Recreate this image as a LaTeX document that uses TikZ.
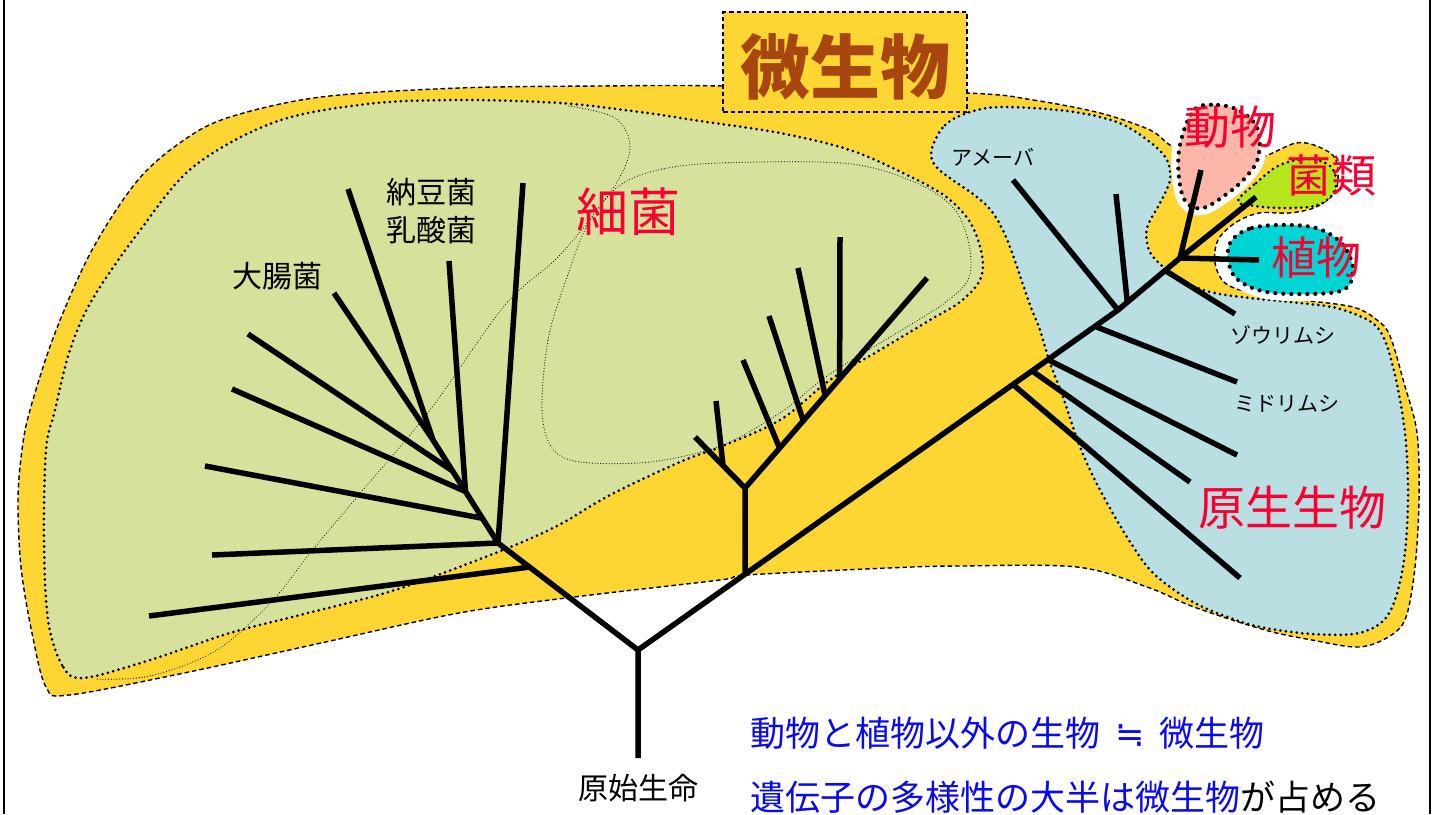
\documentclass[tikz,border=0pt]{standalone}
\usepackage{fontspec}
\newfontfamily\jp{Noto Sans CJK JP}
\newfontfamily\dvs{DejaVu Sans}
\usetikzlibrary{calc}
\definecolor{yel}{RGB}{253,214,51}
\definecolor{bact}{RGB}{214,225,155}
\definecolor{prot}{RGB}{185,223,227}
\definecolor{pinkc}{RGB}{252,182,170}
\definecolor{limec}{RGB}{181,230,29}
\definecolor{cyanc}{RGB}{0,212,212}
\definecolor{redt}{RGB}{250,0,50}
\definecolor{brownt}{RGB}{168,70,16}
\definecolor{bluet}{RGB}{10,10,240}
\begin{document}
\begin{tikzpicture}[x=1pt,y=-1pt,
  outer/.style={fill=yel,draw=black,line width=1.4pt,dash pattern=on 4.5pt off 3pt},
  dotb/.style={draw=black,line width=3pt,dash pattern=on 0pt off 5.5pt,line cap=round},
  dotbig/.style={draw=black,line width=4.2pt,dash pattern=on 0pt off 8pt,line cap=round},
  thindot/.style={draw=black,line width=1.1pt,dash pattern=on 0pt off 2.8pt,line cap=round},
  halo/.style={draw=white,line width=14pt},
  branch/.style={draw=black,line width=5.5pt,line join=round},
  lab/.style={inner sep=0pt,font=\jp\fontsize{#1}{#1}\selectfont},
  redlab/.style={lab=#1,text=redt},
  framel/.style={draw=black,line width=2pt}
]
\useasboundingbox (0,0) rectangle (1434,814);

% outer yellow region (micro-organisms)
\path[outer] plot[smooth cycle,tension=0.55] coordinates {
 (967,93) (1033,100) (1100,113) (1150,130) (1172,146) (1200,150) (1245,152)
 (1262,157) (1296,143) (1319,147) (1336,160) (1336,190) (1316,207) (1289,213)
 (1259,213) (1235,223) (1218,240) (1215,263) (1225,283) (1252,293) (1302,300)
 (1353,307) (1377,320) (1390,336) (1404,383) (1417,433) (1419,500) (1415,567)
 (1406,617) (1390,636) (1359,647) (1312,640) (1265,630) (1194,607) (1147,587)
 (1077,567) (960,566) (888,568) (747,575) (720,580) (574,597) (459,613)
 (321,643) (184,673) (69,695) (46,687) (32,633) (21,567) (18,500) (22,450)
 (30,410) (55,333) (92,250) (138,180) (184,140) (230,117) (321,97) (459,88)
 (600,86) (723,86)};

% title box
\node[outer,minimum width=244pt,minimum height=100pt,inner sep=0pt] (tbox) at (845,62) {};

% bacteria region
\path[fill=bact,dotb] plot[smooth cycle,tension=0.55] coordinates {
 (83,678) (62,665) (48,620) (44,540) (46,450) (55,410) (70,350) (92,300)
 (138,233) (193,167) (275,122) (367,104) (460,100) (560,103) (640,112)
 (700,121) (780,133) (850,150) (905,174) (945,196) (970,222) (982,255)
 (980,280) (960,302) (930,320) (880,350) (830,380) (780,420) (720,447)
 (680,462) (610,495) (557,526) (498,552) (395,590) (300,615) (230,633) (150,660)};

% thin dotted subdivisions
\path[thindot] plot[smooth,tension=0.55] coordinates {
 (569,106) (615,118) (630,148) (612,190) (560,255) (505,305) (430,410)
 (363,490) (310,553) (273,600) (217,650) (150,676) (95,679)};
\path[thindot] plot[smooth cycle,tension=0.55] coordinates {
 (542,410) (548,340) (566,280) (590,220) (625,182) (680,166) (760,162)
 (841,163) (888,172) (932,191) (958,214) (970,250) (968,280) (946,302)
 (915,322) (830,374) (780,413) (720,446) (650,462) (580,462) (552,448)};

% protist region
\path[fill=prot,dotb] plot[smooth cycle,tension=0.55] coordinates {
 (933,145) (945,125) (967,113) (1000,107) (1067,111) (1117,122) (1150,142)
 (1167,160) (1170,180) (1160,203) (1147,228) (1149,250) (1160,264) (1180,280)
 (1210,292) (1250,298) (1300,303) (1340,309) (1377,327) (1393,367) (1405,433)
 (1408,500) (1403,567) (1388,615) (1359,633) (1312,634) (1265,628) (1233,619)
 (1193,602) (1153,573) (1127,537) (1100,490) (1080,447) (1063,397) (1050,363)
 (1040,330) (1030,305) (1017,267) (1006,237) (993,213) (977,197) (943,173) (932,160)};

% fungi region
\path[fill=limec,dotb] plot[smooth cycle,tension=0.6] coordinates {
 (1238,201) (1256,183) (1280,165) (1310,159) (1332,168) (1335,190) (1318,205)
 (1286,208) (1255,206)};

% animal region
\path[halo] plot[smooth cycle,tension=0.6] coordinates {
 (1194,110) (1218,105) (1242,112) (1258,130) (1258,158) (1246,177) (1228,193)
 (1203,208) (1186,202) (1179,178) (1180,145)};
\path[fill=pinkc,dotbig] plot[smooth cycle,tension=0.6] coordinates {
 (1194,110) (1218,105) (1242,112) (1258,130) (1258,158) (1246,177) (1228,193)
 (1203,208) (1186,202) (1179,178) (1180,145)};

% plant region
\path[halo] plot[smooth cycle,tension=0.6] coordinates {
 (1232,240) (1252,228) (1286,225) (1319,229) (1343,245) (1353,270) (1343,290)
 (1302,294) (1262,291) (1236,278) (1228,258)};
\path[fill=cyanc,dotbig] plot[smooth cycle,tension=0.6] coordinates {
 (1232,240) (1252,228) (1286,225) (1319,229) (1343,245) (1353,270) (1343,290)
 (1302,294) (1262,291) (1236,278) (1228,258)};

% ---- tree ----
\coordinate (root) at (638,758);
\coordinate (R) at (638,650);
\coordinate (A) at (498,543);
\coordinate (T) at (433,440);
\coordinate (Q) at (1118,310);
\coordinate (J) at (1180,258);
\coordinate (M) at ($(R)!0.223!(Q)$);
\coordinate (N) at (745,488);
\coordinate (E) at (927,278);
\coordinate (Lf) at (695,437);
% left side nodes
\coordinate (B1) at ($(R)!0.775!(A)$);
\coordinate (S1) at ($(A)!0.24!(T)$);
\coordinate (S2) at ($(A)!0.50!(T)$);
\coordinate (S3) at ($(A)!0.70!(T)$);
% archaea nodes
\coordinate (N1) at ($(N)!0.44!(Lf)$);
\coordinate (K1) at ($(N)!0.19!(E)$);
\coordinate (K2) at ($(N)!0.32!(E)$);
\coordinate (K3) at ($(N)!0.44!(E)$);
\coordinate (K4) at ($(N)!0.52!(E)$);
% eukaryote nodes
\coordinate (P1) at ($(R)!0.781!(Q)$);
\coordinate (P2) at ($(R)!0.821!(Q)$);
\coordinate (P3) at ($(R)!0.854!(Q)$);
\coordinate (P4) at ($(R)!0.952!(Q)$);
\coordinate (Q2) at ($(Q)!0.15!(J)$);
\coordinate (Q3) at ($(Q)!0.76!(J)$);
% leaves
\coordinate (b1) at (149,616);
\coordinate (b2) at (212,555);
\coordinate (b3) at (523,183);
\coordinate (b4) at (205,466);
\coordinate (b5) at (232,389);
\coordinate (b6) at (449,261);
\coordinate (b7) at (248,334);
\coordinate (b8) at (334,293);
\coordinate (b9) at (348,189);
\coordinate (a1) at (716,401);
\coordinate (a2) at (743,360);
\coordinate (a3) at (769,316);
\coordinate (a4) at (798,268);
\coordinate (a5) at (840,237);
\coordinate (e1) at (1240,578);
\coordinate (e2) at (1190,482);
\coordinate (e3) at (1237,455);
\coordinate (e4) at (1237,382);
\coordinate (e5) at (1013,180);
\coordinate (e6) at (1116,194);
\coordinate (e7) at (1235,314);
\coordinate (ani) at (1201,170);
\coordinate (fun) at (1256,197);
\coordinate (pla) at (1259,260);

\draw[branch] (root) -- (R) -- (A) -- (T);
\draw[branch] (R) -- (Q) -- (J);
\draw[branch] (B1) -- (b1);
\draw[branch] (A) -- (b2);
\draw[branch] (A) -- (b3);
\draw[branch] (S1) -- (b4);
\draw[branch] (S2) -- (b5);
\draw[branch] (S2) -- (b6);
\draw[branch] (S3) -- (b7);
\draw[branch] (T) -- (b8);
\draw[branch] (T) -- (b9);
\draw[branch] (M) -- (N) -- (E);
\draw[branch] (N) -- (Lf);
\draw[branch] (N1) -- (a1);
\draw[branch] (K1) -- (a2);
\draw[branch] (K2) -- (a3);
\draw[branch] (K3) -- (a4);
\draw[branch] (K4) -- (a5);
\draw[branch] (P1) -- (e1);
\draw[branch] (P2) -- (e2);
\draw[branch] (P3) -- (e3);
\draw[branch] (P4) -- (e4);
\draw[branch] (Q) -- (e5);
\draw[branch] (Q2) -- (e6);
\draw[branch] (Q3) -- (e7);
\draw[branch] (J) -- (ani);
\draw[branch] (J) -- (fun);
\draw[branch] (J) -- (pla);

% ---- labels ----
\node[inner sep=0pt,text=brownt,font=\jp\bfseries\fontsize{70}{70}\selectfont] (ttl) at (845,67) {微生物};
\node[redlab=52] (saikin) at (628,212) {細菌};
\node[redlab=47] (gensei) at (1292,508) {原生生物};
\node[redlab=46] (doubutsu) at (1230,127) {動物};
\node[redlab=45] (kinrui) at (1331,175) {菌類};
\node[redlab=45] (shokubutsu) at (1316,257) {植物};
\node[lab=30] (daichou) at (277,276) {大腸菌};
\node[lab=30] (natto) at (431,192) {納豆菌};
\node[lab=30] (nyusan) at (431,230) {乳酸菌};
\node[lab=21] (ameba) at (993,157) {アメーバ};
\node[lab=21] (zouri) at (1283,335) {ゾウリムシ};
\node[lab=21] (midori) at (1287,404) {ミドリムシ};
\node[lab=30] (genshi) at (638,788) {原始生命};
\node[lab=35,anchor=west,text=bluet] (line1) at (750,733) {動物と植物以外の生物\hspace{15pt}{\dvs ≒}\hspace{15pt}微生物};
\node[lab=35,anchor=west] (line2) at (750,797) {\textcolor{bluet}{遺伝子の多様性の大半は微生物}が占める};

% frame
\coordinate (fl1) at (4,0);
\coordinate (fl2) at (4,814);
\coordinate (fr1) at (1430,0);
\coordinate (fr2) at (1430,814);
\draw[framel] (fl1) -- (fl2);
\draw[framel] (fr1) -- (fr2);
\end{tikzpicture}
\end{document}
